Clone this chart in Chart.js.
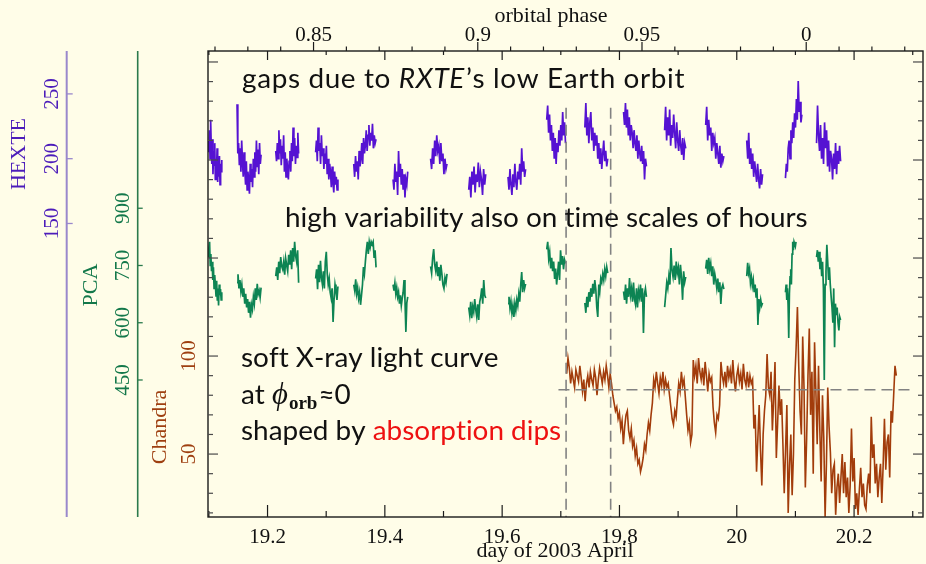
<!DOCTYPE html>
<html><head><meta charset="utf-8">
<script src="https://cdn.jsdelivr.net/npm/chart.js@4/dist/chart.umd.min.js"></script>
<style>
html,body{margin:0;padding:0;background:#fffde8;}
canvas{display:block;}
</style></head><body>
<canvas id="c" width="926" height="564"></canvas>
<script>
// ---------------- data ----------------
const dayTicks = [19.2, 19.4, 19.6, 19.8, 20, 20.2];
const dayTickLabels = ['19.2', '19.4', '19.6', '19.8', '20', '20.2'];
const dayMinorTicks = [19.1, 19.3, 19.5, 19.7, 19.9, 20.1, 20.3];
const phaseTicks = [-0.15, -0.10, -0.05, 0];
const phaseTickLabels = ['0.85', '0.9', '0.95', '0'];
const hexteTicks = [150, 200, 250];
const pcaTicks = [450, 600, 750, 900];
const chandraTicks = [50, 100];

const orbitalPeriod = 5.5998;   // days
const phaseZeroDay = 20.1184;   // day of 2003 April at phi_orb = 0

// RXTE pointings (start / end of each good-time segment, day of 2003 April)
const rxteSegStart = [19.099, 19.148, 19.214, 19.282, 19.347, 19.414, 19.478, 19.543, 19.610,
                      19.676, 19.741, 19.807, 19.877, 19.947, 20.017, 20.083, 20.136];
const hexteSegEnd  = [19.122, 19.189, 19.253, 19.320, 19.385, 19.439, 19.506, 19.572, 19.640,
                      19.708, 19.780, 19.846, 19.913, 19.978, 20.044, 20.111, 20.177];
const pcaSegEnd    = [19.122, 19.189, 19.253, 19.320, 19.385, 19.439, 19.506, 19.572, 19.640,
                      19.708, 19.780, 19.846, 19.913, 19.978, 20.044, 20.101, 20.177];

// HEXTE count rates per segment
const hexteRates = [
  [214,205,222,200,230,210,196,215,188,206,195,212,184,200,190,208,182,198,186,202,180,196,190,199],
  [242,204,212,195,208,190,214,198,186,205,192,180,198,176,190,184,173,196,182,192,178,200,186,205,190,214,194,207,188,212,196,203],
  [206,198,212,200,222,204,215,195,210,200,218,190,205,186,200,192,184,198,206,190,212,198,224,202,216,196,210,201,220,204],
  [205,214,198,224,206,212,196,218,202,208,192,204,196,210,188,200,184,196,190,178,194,182,174,190,180,186,176,184],
  [196,186,202,190,198,184,206,194,200,212,196,216,204,210,222,206,218,226,210,220,214,227,208,218,212,215],
  [184,176,196,182,190,172,206,186,196,180,192,176,188,170,184,180,190],
  [200,192,208,196,214,202,218,206,210,196,212,198,204,188,200,192,196],
  [176,186,170,190,180,194,174,188,182,197,178,190,184,172,192,180,188],
  [186,176,192,180,172,188,178,196,182,176,190,184,196,180,208,190,198,186,192],
  [230,241,220,234,214,226,206,220,200,216,196,212,205,222,210,226,214,236,218,228,212],
  [224,243,218,232,212,228,236,214,224,206,220,210,218,200,212,196,208,192,204,214,198,206,194,200],
  [236,226,243,224,238,218,232,214,226,220,208,222,212,206,218,200,214,204,198,210,196,206,184,200,194],
  [222,240,214,232,218,238,210,226,216,234,220,208,228,214,206,222,210,203,216,199,212,208],
  [226,240,214,230,218,224,206,220,212,216,200,212,204,196,210,193,204,198,202],
  [214,200,220,196,208,192,204,186,198,190,182,196,184,177,192,180,188],
  [185,196,190,208,214,200,222,212,228,216,235,224,246,230,260,236,244,228,234],
  [212,241,218,206,226,200,216,196,228,208,222,194,214,190,206,200,184,204,192,212,188,206,196,210,198]
];

// PCA count rates per segment
const pcaRates = [
  [772,796,812,750,780,735,760,712,745,690,725,700,670,710,660,690,645,700,672,688,660,680],
  [705,727,690,712,682,700,668,690,650,676,640,662,626,655,613,648,635,668,650,690,660,702,675,684,666,692],
  [722,745,712,760,730,772,748,740,760,726,768,750,735,778,752,790,740,796,760,812,775,760,790,705],
  [716,740,688,752,706,762,718,700,735,690,760,786,728,700,716,680,665,690,602,660,700,682,660,695],
  [700,684,714,676,692,664,680,647,672,700,746,728,760,790,812,780,812,798,812,805,812,770,790,745],
  [700,684,704,676,692,668,680,650,672,645,664,680,712,660,576,652,668],
  [748,730,770,793,752,736,760,722,746,710,752,728,700,690,718,705,728],
  [640,620,655,612,642,628,662,635,616,648,607,655,668,690,650,712,672,665],
  [650,668,638,656,625,645,615,650,632,660,645,675,655,700,733,680,712,690,702],
  [792,812,768,785,742,770,735,760,715,742,700,728,760,712,790,752,775,740,765,755],
  [652,626,668,641,680,655,690,668,702,676,712,688,640,615,700,682,716,706,728,712,740,722,746,730],
  [682,660,700,650,690,668,717,672,690,655,705,662,648,690,640,684,668,700,655,690,573,676,690,668],
  [641,672,705,690,722,700,796,738,720,750,712,760,730,745,700,752,718,660,735,706,720],
  [742,765,728,770,740,756,722,748,700,728,712,690,716,680,706,649,692,700,688],
  [722,757,730,742,704,720,696,712,680,700,668,690,594,662,640,660,645,652],
  [680,700,660,690,647,560,676,720,740,700,780,812,790,812,812,800,812],
  [772,790,760,786,740,770,722,760,690,450,700,735,804,760,712,745,700,668,640,600,690,536,650,620,640,600,580,615,607]
];

// Chandra light curve: continuous, evenly binned between these days
const chandraStart = 19.710, chandraEnd = 20.272;
const chandraRate = [
  91,99,94,86,92,88,84,93,90,87, 95,89,82,88,77,86,90,84,92,88, 85,93,89,80,88,94,90,86,92,88, 95,90,84,91,86,
  80,76,72,74,68,71,63,67,55,64, 70,72,62,58,63,54,57,49,53,45, 47,41,44,
  48,55,52,60,66,62,70,76,
  88,84,92,86,81,89,85,92,83,88,84,86,80,
  74,68,65,72,69,
  78,86,82,92,85,88,79,
  70,62,66,56,60,
  98,90,95,86,99,92,88,94,85,97,90,82,91,87,89,
  74,66,61,70,68,75,
  97,90,86,92,84,95,89,93,86,98, 88,82,90,94,87,91,83,96,88,85, 92,84,90,86,88,
  63,70,41,58,75,52,34,60,
  72,80,101,84,80,92,62,78,97,
  48,66,85,70,78,55,30,52,75,
  20,44,60,29,50,88,104,125,
  95,72,60,110,84,33,58,90,114,
  70,92,40,107,82,55,95,62,36,
  80,58,18,45,84,64,51,30,42,
  45,19,33,40,25,38,50,30,46,
  28,38,20,34,63,36,48,22,30,
  19,32,43,28,35,24,22,34,40,
  30,69,48,55,35,45,28,38,45,
  25,44,68,42,56,60,38,72,66,80,95,90
];

const dipMarkDays = [19.709, 19.785];   // vertical dashed markers
const dipMarkTop = 229;                 // in Chandra count units
const chandraRefLevel = 82.8;           // horizontal dashed level
const chandraRefSpan = [19.696, 20.297];

// ---------------- axis ranges ----------------
const xMin = 19.0985, xMax = 20.3175;
const hexteMin = -76.5, hexteMax = 283.1;
const pcaMin = 91, pcaMax = 1312;
const chandraMin = 17.9, chandraMax = 255.6;

// ---------------- styles ----------------
const BG = '#fffde8';
const C_HEXTE = '#5512d2', C_HEXTE_TXT = '#4c1cba', C_HEXTE_AX = '#9a88cc';
const C_PCA = '#0d8453', C_PCA_TXT = '#13784a', C_PCA_AX = '#2b7a4c';
const C_CHANDRA = '#a23c0b', C_CHANDRA_TXT = '#9e3f10';
const SERIF = '"Liberation Serif", "DejaVu Serif", serif';
const SANS = 'Lato, "Open Sans", sans-serif';

function segPoints(starts, ends, rates) {
  const pts = [];
  rates.forEach((seg, s) => {
    const n = seg.length;
    seg.forEach((r, i) => pts.push({x: starts[s] + (ends[s] - starts[s]) * i / (n - 1), y: r}));
    pts.push({x: ends[s] + 0.002, y: null});
  });
  return pts;
}
const hextePts = segPoints(rxteSegStart, hexteSegEnd, hexteRates);
const pcaPts = segPoints(rxteSegStart, pcaSegEnd, pcaRates);
const chandraPts = segPoints([chandraStart], [chandraEnd], [chandraRate]);

const dashStyle = {borderColor: '#828282', borderWidth: 1.6, borderDash: [11, 6], pointRadius: 0, yAxisID: 'yC', xAxisID: 'x'};

const datasets = [
  Object.assign({label: 'dip1', data: [{x: dipMarkDays[0], y: chandraMin - 5}, {x: dipMarkDays[0], y: dipMarkTop}], order: 0}, dashStyle),
  Object.assign({label: 'dip2', data: [{x: dipMarkDays[1], y: chandraMin - 5}, {x: dipMarkDays[1], y: dipMarkTop}], order: 0}, dashStyle),
  Object.assign({label: 'ref', data: [{x: chandraRefSpan[0], y: chandraRefLevel}, {x: chandraRefSpan[1], y: chandraRefLevel}], order: 0}, dashStyle),
  {label: 'Chandra', data: chandraPts, borderColor: C_CHANDRA, borderWidth: 1.6, pointRadius: 0, yAxisID: 'yC', xAxisID: 'x', spanGaps: false, order: 1},
  {label: 'PCA', data: pcaPts, borderColor: C_PCA, borderWidth: 1.7, pointRadius: 0, yAxisID: 'yP', xAxisID: 'x', spanGaps: false, order: 2},
  {label: 'HEXTE', data: hextePts, borderColor: C_HEXTE, borderWidth: 1.7, pointRadius: 0, yAxisID: 'yH', xAxisID: 'x', spanGaps: false, order: 3}
];

// ---------------- decoration plugin ----------------
function line(ctx, x1, y1, x2, y2) { ctx.beginPath(); ctx.moveTo(x1, y1); ctx.lineTo(x2, y2); ctx.stroke(); }
function vtext(ctx, txt, x, y, font, color) {
  ctx.save(); ctx.translate(x, y); ctx.rotate(-Math.PI / 2);
  ctx.font = font; ctx.fillStyle = color; ctx.textAlign = 'center'; ctx.textBaseline = 'alphabetic';
  ctx.fillText(txt, 0, 0); ctx.restore();
}
function runsWidth(ctx, parts) {
  let w = 0;
  parts.forEach(p => { ctx.font = p.font; w += ctx.measureText(p.t).width + (p.kern || 0); });
  return w;
}
function runs(ctx, x, y, parts, target) {
  let extra = 0;
  if (target) {
    const n = parts.reduce((s, p) => s + p.t.length, 0);
    extra = (target - runsWidth(ctx, parts)) / n;
  }
  let cx = x;
  parts.forEach(p => {
    ctx.font = p.font; ctx.fillStyle = p.color || '#111';
    ctx.textAlign = 'left'; ctx.textBaseline = 'alphabetic';
    for (const ch of p.t) {
      ctx.fillText(ch, cx, y + (p.dy || 0));
      cx += ctx.measureText(ch).width + extra;
    }
    cx += (p.kern || 0);
  });
}

const deco = {
  id: 'deco',
  beforeDraw(chart) {
    const {ctx, width, height} = chart;
    ctx.save(); ctx.fillStyle = BG; ctx.fillRect(0, 0, width, height); ctx.restore();
  },
  afterDraw(chart) {
    const {ctx, chartArea: a, scales} = chart;
    const sx = scales.x, sp = scales.x2, sH = scales.yH, sP = scales.yP, sC = scales.yC;
    ctx.save();
    // frame
    ctx.strokeStyle = '#1b1b1b'; ctx.lineWidth = 1.4;
    ctx.strokeRect(a.left, a.top, a.right - a.left, a.bottom - a.top);
    // day ticks bottom and top
    ctx.lineWidth = 1.2; ctx.strokeStyle = '#1b1b1b';
    dayTicks.forEach(d => { const x = sx.getPixelForValue(d); line(ctx, x, a.bottom, x, a.bottom - 12); line(ctx, x, a.top, x, a.top + 9); });
    dayMinorTicks.forEach(d => { const x = sx.getPixelForValue(d); line(ctx, x, a.bottom, x, a.bottom - 6); line(ctx, x, a.top, x, a.top + 4); });
    // phase ticks (outside, top)
    for (let k = -18; k <= 3; k++) {
      const x = sp.getPixelForValue(k / 100);
      line(ctx, x, a.top, x, a.top - (k % 5 === 0 ? 9 : 4.5));
    }
    // left/right frame ticks in Chandra units
    ctx.strokeStyle = '#4a4a4a';
    for (let v = 20; v <= 250; v += 10) {
      const y = sC.getPixelForValue(v); const L = (v % 50 === 0) ? 10 : 5;
      line(ctx, a.left, y, a.left + L, y); line(ctx, a.right, y, a.right - L, y);
    }
    // HEXTE and PCA axis lines
    const xH = 66.7, xP = 137.7;
    ctx.strokeStyle = C_HEXTE_AX; ctx.lineWidth = 2;
    line(ctx, xH, a.top, xH, a.bottom);
    ctx.lineWidth = 1.3;
    hexteTicks.forEach(v => { const y = sH.getPixelForValue(v); line(ctx, xH, y, xH + 6, y); });
    ctx.strokeStyle = C_PCA_AX; ctx.lineWidth = 1.6;
    line(ctx, xP, a.top, xP, a.bottom);
    ctx.lineWidth = 1.3;
    pcaTicks.forEach(v => { const y = sP.getPixelForValue(v); line(ctx, xP, y, xP + 5, y); });
    // tick labels on the y axes (rotated)
    const tf = '21px ' + SERIF;
    hexteTicks.forEach(v => vtext(ctx, String(v), 57.5, sH.getPixelForValue(v), tf, C_HEXTE_TXT));
    pcaTicks.forEach(v => vtext(ctx, String(v), 128.5, sP.getPixelForValue(v), tf, C_PCA_TXT));
    chandraTicks.forEach(v => vtext(ctx, String(v), 195, sC.getPixelForValue(v), tf, C_CHANDRA_TXT));
    // axis titles
    const ttf = '22px ' + SERIF;
    vtext(ctx, 'HEXTE', 25, 154, ttf, C_HEXTE_TXT);
    vtext(ctx, 'PCA', 97, 285, ttf, C_PCA_TXT);
    vtext(ctx, 'Chandra', 166, 427, ttf, C_CHANDRA_TXT);
    ctx.font = ttf; ctx.fillStyle = '#111'; ctx.textAlign = 'center'; ctx.textBaseline = 'alphabetic';
    ctx.fillText('orbital phase', 551, 22);
    ctx.fillText('day of 2003 April', 555, 557);
    // annotations
    const l2 = 'high variability also on time scales of hours';
    ctx.font = '24px ' + SANS;
    const fs = 24 * 523 / ctx.measureText(l2).width;
    const f = fs.toFixed(1) + 'px ' + SANS, fi = 'italic ' + f;
    runs(ctx, 242, 88, [{t: 'gaps due to ', font: f}, {t: 'RXTE', font: fi, kern: 1}, {t: '\u2019s low Earth orbit', font: f}], 442);
    runs(ctx, 285, 227, [{t: l2, font: f}]);
    runs(ctx, 241, 367, [{t: 'soft X-ray light curve', font: f}]);
    runs(ctx, 241, 404, [{t: 'at ', font: f}, {t: '\u03D5', font: 'italic ' + (fs * 1.1).toFixed(1) + 'px ' + SERIF, kern: 1},
      {t: 'orb', font: 'bold ' + (fs * 0.68).toFixed(1) + 'px ' + SERIF, dy: 5, kern: 1}, {t: '\u22480', font: f}]);
    runs(ctx, 241, 440, [{t: 'shaped by ', font: f}, {t: 'absorption dips', font: f, color: '#ee1111'}]);
    ctx.restore();
  }
};

new Chart(document.getElementById('c'), {
  type: 'line',
  data: {datasets},
  options: {
    responsive: false, animation: false, devicePixelRatio: 1,
    layout: {padding: {left: 208, right: 3, top: 0, bottom: 0}},
    plugins: {legend: {display: false}, tooltip: {enabled: false}},
    elements: {line: {tension: 0}},
    scales: {
      x: {type: 'linear', position: 'bottom', min: xMin, max: xMax,
        afterBuildTicks: s => { s.ticks = dayTicks.map(v => ({value: v})); },
        afterFit: s => { s.height = 47; },
        grid: {display: false, drawTicks: false}, border: {display: false},
        ticks: {callback: (v, i) => dayTickLabels[i], autoSkip: false, maxRotation: 0, padding: 8,
          color: '#111', font: {family: SERIF, size: 21}}},
      x2: {type: 'linear', position: 'top', min: (xMin - phaseZeroDay) / orbitalPeriod, max: (xMax - phaseZeroDay) / orbitalPeriod,
        afterBuildTicks: s => { s.ticks = phaseTicks.map(v => ({value: v})); },
        afterFit: s => { s.height = 51; },
        grid: {display: false, drawTicks: false}, border: {display: false},
        ticks: {callback: (v, i) => phaseTickLabels[i], autoSkip: false, maxRotation: 0, padding: 3,
          color: '#111', font: {family: SERIF, size: 21}}},
      yH: {type: 'linear', display: false, min: hexteMin, max: hexteMax},
      yP: {type: 'linear', display: false, min: pcaMin, max: pcaMax},
      yC: {type: 'linear', display: false, min: chandraMin, max: chandraMax}
    }
  },
  plugins: [deco]
});
</script></body></html>
